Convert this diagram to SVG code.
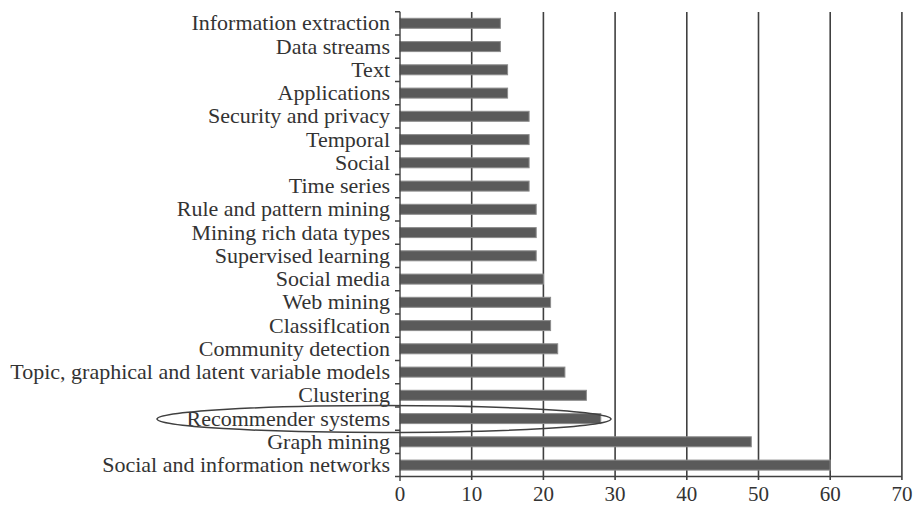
<svg xmlns="http://www.w3.org/2000/svg" width="914" height="508" viewBox="0 0 914 508">
<style>
.lbl{font-family:"Liberation Serif","Times New Roman",serif;font-size:22px;fill:#333333;text-anchor:end}
.num{font-family:"Liberation Serif","Times New Roman",serif;font-size:21px;fill:#333333;text-anchor:middle}
.bar{fill:#5a5a5a;stroke:#8c8c8c;stroke-width:1}
.grid{stroke:#404040;stroke-width:1.6;fill:none}
.axis{stroke:#404040;stroke-width:1.4;fill:none}
</style>
<rect width="914" height="508" fill="#ffffff"/>
<g id="gridlines" class="grid">
<line x1="471.7" y1="12" x2="471.7" y2="480"/>
<line x1="543.4" y1="12" x2="543.4" y2="480"/>
<line x1="615.1" y1="12" x2="615.1" y2="480"/>
<line x1="686.8" y1="12" x2="686.8" y2="480"/>
<line x1="758.5" y1="12" x2="758.5" y2="480"/>
<line x1="830.2" y1="12" x2="830.2" y2="480"/>
<line x1="901.9" y1="12" x2="901.9" y2="480"/>
</g>
<g id="bars">
<g id="r0"><rect class="bar" x="400" y="18.3" width="100.4" height="10"/><text class="lbl" x="390" y="30.3">Information extraction</text></g>
<g id="r1"><rect class="bar" x="400" y="41.6" width="100.4" height="10"/><text class="lbl" x="390" y="53.6">Data streams</text></g>
<g id="r2"><rect class="bar" x="400" y="64.8" width="107.6" height="10"/><text class="lbl" x="390" y="76.8">Text</text></g>
<g id="r3"><rect class="bar" x="400" y="88.1" width="107.6" height="10"/><text class="lbl" x="390" y="100.1">Applications</text></g>
<g id="r4"><rect class="bar" x="400" y="111.3" width="129.1" height="10"/><text class="lbl" x="390" y="123.3">Security and privacy</text></g>
<g id="r5"><rect class="bar" x="400" y="134.6" width="129.1" height="10"/><text class="lbl" x="390" y="146.6">Temporal</text></g>
<g id="r6"><rect class="bar" x="400" y="157.8" width="129.1" height="10"/><text class="lbl" x="390" y="169.8">Social</text></g>
<g id="r7"><rect class="bar" x="400" y="181.1" width="129.1" height="10"/><text class="lbl" x="390" y="193.1">Time series</text></g>
<g id="r8"><rect class="bar" x="400" y="204.3" width="136.2" height="10"/><text class="lbl" x="390" y="216.3">Rule and pattern mining</text></g>
<g id="r9"><rect class="bar" x="400" y="227.6" width="136.2" height="10"/><text class="lbl" x="390" y="239.6">Mining rich data types</text></g>
<g id="r10"><rect class="bar" x="400" y="250.8" width="136.2" height="10"/><text class="lbl" x="390" y="262.8">Supervised learning</text></g>
<g id="r11"><rect class="bar" x="400" y="274.1" width="143.4" height="10"/><text class="lbl" x="390" y="286.1">Social media</text></g>
<g id="r12"><rect class="bar" x="400" y="297.3" width="150.6" height="10"/><text class="lbl" x="390" y="309.3">Web mining</text></g>
<g id="r13"><rect class="bar" x="400" y="320.6" width="150.6" height="10"/><text class="lbl" x="390" y="332.6">Classiflcation</text></g>
<g id="r14"><rect class="bar" x="400" y="343.8" width="157.7" height="10"/><text class="lbl" x="390" y="355.8">Community detection</text></g>
<g id="r15"><rect class="bar" x="400" y="367.1" width="164.9" height="10"/><text class="lbl" x="390" y="379.1">Topic, graphical and latent variable models</text></g>
<g id="r16"><rect class="bar" x="400" y="390.3" width="186.4" height="10"/><text class="lbl" x="390" y="402.3">Clustering</text></g>
<g id="r17"><rect class="bar" x="400" y="413.6" width="200.8" height="10"/><text class="lbl" x="390" y="425.6">Recommender systems</text></g>
<g id="r18"><rect class="bar" x="400" y="436.8" width="351.3" height="10"/><text class="lbl" x="390" y="448.8">Graph mining</text></g>
<g id="r19"><rect class="bar" x="400" y="460.1" width="430.2" height="10"/><text class="lbl" x="390" y="472.1">Social and information networks</text></g>
</g>
<g id="axes" class="axis">
<line x1="400" y1="11.7" x2="400" y2="476.5"/>
<line x1="400" y1="476.5" x2="901.9" y2="476.5"/>
<path d="M395 11.7H400M395 35H400M395 58.2H400M395 81.5H400M395 104.7H400M395 128H400M395 151.2H400M395 174.5H400M395 197.7H400M395 221H400M395 244.2H400M395 267.5H400M395 290.7H400M395 314H400M395 337.2H400M395 360.5H400M395 383.7H400M395 407H400M395 430.2H400M395 453.5H400M395 476.5H400"/>
<path d="M400 476.5V481"/>
</g>
<g id="ticklabels">
<text class="num" x="400" y="501">0</text>
<text class="num" x="471.7" y="501">10</text>
<text class="num" x="543.4" y="501">20</text>
<text class="num" x="615.1" y="501">30</text>
<text class="num" x="686.8" y="501">40</text>
<text class="num" x="758.5" y="501">50</text>
<text class="num" x="830.2" y="501">60</text>
<text class="num" x="901.9" y="501">70</text>
</g>
<g id="highlight">
<ellipse cx="384" cy="419" rx="227" ry="13.5" fill="none" stroke="#404040" stroke-width="1.5"/>
</g>
</svg>
